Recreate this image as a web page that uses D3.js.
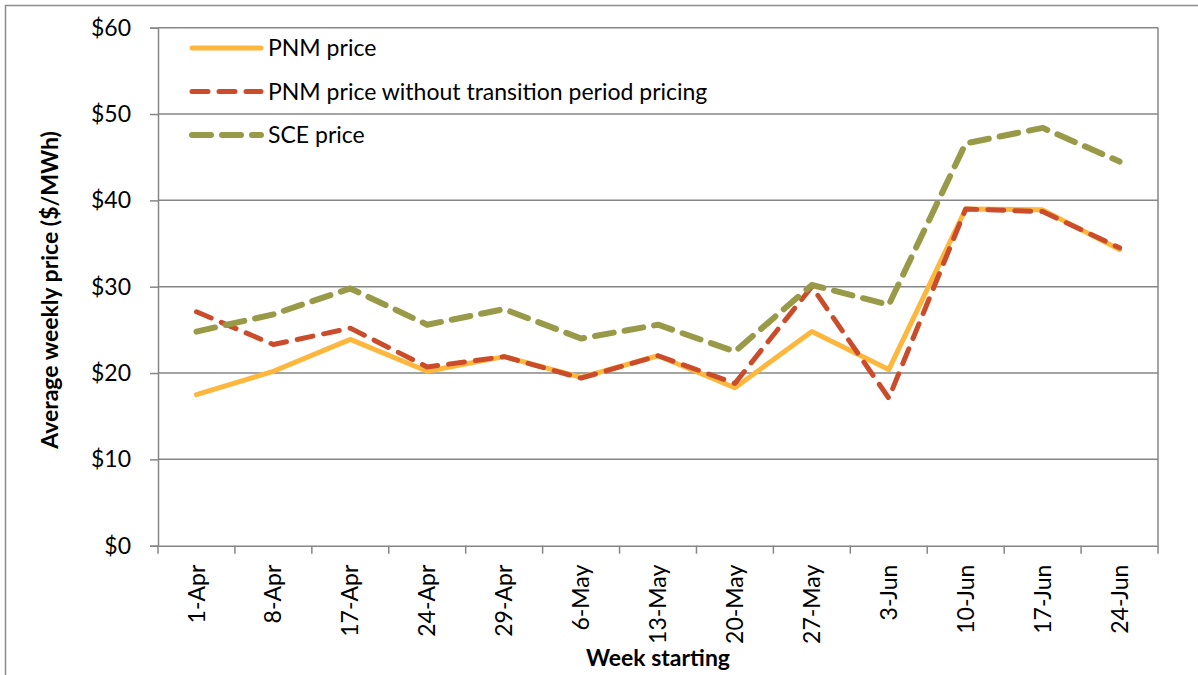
<!DOCTYPE html>
<html>
<head>
<meta charset="utf-8">
<script src="https://cdn.jsdelivr.net/npm/d3@7"></script>
<style>
  body { margin: 0; background: #fff; }
  svg { display: block; font-family: Lato, "Open Sans", sans-serif; }
</style>
</head>
<body>
<div id="chart"></div>
<script>
// chart data
const weeks = ["1-Apr", "8-Apr", "17-Apr", "24-Apr", "29-Apr", "6-May", "13-May",
  "20-May", "27-May", "3-Jun", "10-Jun", "17-Jun", "24-Jun"];
const pnmPrice = [17.5, 20.2, 23.9, 20.2, 21.9, 19.5, 22.0, 18.3, 24.8, 20.4, 39.0, 38.9, 34.3];
const pnmNoTransition = [27.1, 23.3, 25.2, 20.7, 21.9, 19.4, 22.0, 18.8, 30.0, 17.1, 39.0, 38.7, 34.5];
const scePrice = [24.8, 26.8, 29.8, 25.6, 27.4, 24.0, 25.6, 22.5, 30.2, 27.9, 46.6, 48.4, 44.5];
const yTicks = [0, 10, 20, 30, 40, 50, 60];

const W = 1198, H = 675;
const plot = { left: 158, right: 1158, top: 27.7, bottom: 545.7 };
const FS = 23;

const series = [
  { name: "PNM price", values: pnmPrice, color: "#fdb73d", width: 5, dash: null },
  { name: "PNM price without transition period pricing", values: pnmNoTransition, color: "#cb4c2b", width: 5, dash: "16,11" },
  { name: "SCE price", values: scePrice, color: "#999a48", width: 6, dash: "19,11" }
];

const svg = d3.select("#chart").append("svg")
  .attr("width", W).attr("height", H);

// outer chart border
svg.append("rect")
  .attr("x", 5.5).attr("y", 5.5)
  .attr("width", W + 10).attr("height", H + 10)
  .attr("fill", "none").attr("stroke", "#8c8c8c").attr("stroke-width", 1.5);

const x = d3.scaleBand().domain(weeks).range([plot.left, plot.right]);
const y = d3.scaleLinear().domain([0, 60]).range([plot.bottom, plot.top]);

// gridlines
svg.append("g").selectAll("line")
  .data(yTicks.slice(1))
  .join("line")
  .attr("x1", plot.left).attr("x2", plot.right)
  .attr("y1", d => y(d)).attr("y2", d => y(d))
  .attr("stroke", "#868686").attr("stroke-width", 1.5);

// right edge of the plot area
svg.append("line")
  .attr("x1", plot.right).attr("x2", plot.right)
  .attr("y1", plot.top).attr("y2", plot.bottom)
  .attr("stroke", "#868686").attr("stroke-width", 1.5);

// y axis
const yAxis = svg.append("g")
  .attr("transform", `translate(${plot.left},0)`)
  .call(d3.axisLeft(y).tickValues(yTicks).tickSize(8).tickFormat(d => "$" + d));
yAxis.select(".domain").attr("stroke", "#868686").attr("stroke-width", 1.5);
yAxis.selectAll(".tick line").attr("stroke", "#868686").attr("stroke-width", 1.5);
yAxis.selectAll(".tick text")
  .attr("x", -27).attr("font-size", FS).attr("fill", "#000")
  .attr("font-family", "Lato, sans-serif");

// x axis
const xAxis = svg.append("g")
  .attr("transform", `translate(0,${plot.bottom})`)
  .call(d3.axisBottom(x).tickSize(0));
xAxis.select(".domain").attr("stroke", "#868686").attr("stroke-width", 1.5);
xAxis.selectAll(".tick text")
  .attr("transform", "rotate(-90)")
  .attr("x", -19).attr("y", 0).attr("dy", "0.35em")
  .attr("text-anchor", "end")
  .attr("font-size", FS).attr("fill", "#000")
  .attr("font-family", "Lato, sans-serif");
// category boundary ticks
svg.append("g").selectAll("line")
  .data(weeks.concat(["end"]))
  .join("line")
  .attr("x1", (d, i) => plot.left + i * x.step())
  .attr("x2", (d, i) => plot.left + i * x.step())
  .attr("y1", plot.bottom).attr("y2", plot.bottom + 8)
  .attr("stroke", "#868686").attr("stroke-width", 1.5);

// lines
const line = d3.line()
  .x((d, i) => x(weeks[i]) + x.bandwidth() / 2)
  .y(d => y(d));

series.forEach(s => {
  svg.append("path")
    .datum(s.values)
    .attr("d", line)
    .attr("fill", "none")
    .attr("stroke", s.color)
    .attr("stroke-width", s.width)
    .attr("stroke-linejoin", "round")
    .attr("stroke-linecap", "round")
    .attr("stroke-dasharray", s.dash);
});

// legend
const legendY = [48, 91.5, 135];
const legend = svg.append("g");
series.forEach((s, i) => {
  const ly = legendY[i];
  legend.append("line")
    .attr("x1", 192).attr("x2", 261)
    .attr("y1", ly).attr("y2", ly)
    .attr("stroke", s.color)
    .attr("stroke-width", s.width)
    .attr("stroke-linecap", "round")
    .attr("stroke-dasharray", s.dash);
  legend.append("text")
    .attr("x", 268).attr("y", ly)
    .attr("dy", "0.35em")
    .attr("font-size", FS)
    .text(s.name);
});

// axis titles
svg.append("text")
  .attr("transform", `translate(50,290) rotate(-90)`)
  .attr("text-anchor", "middle")
  .attr("dy", "0.35em")
  .attr("font-size", FS).attr("font-weight", "bold")
  .text("Average weekly price ($/MWh)");

svg.append("text")
  .attr("x", 658).attr("y", 666)
  .attr("text-anchor", "middle")
  .attr("font-size", FS).attr("font-weight", "bold")
  .text("Week starting");
</script>
</body>
</html>
